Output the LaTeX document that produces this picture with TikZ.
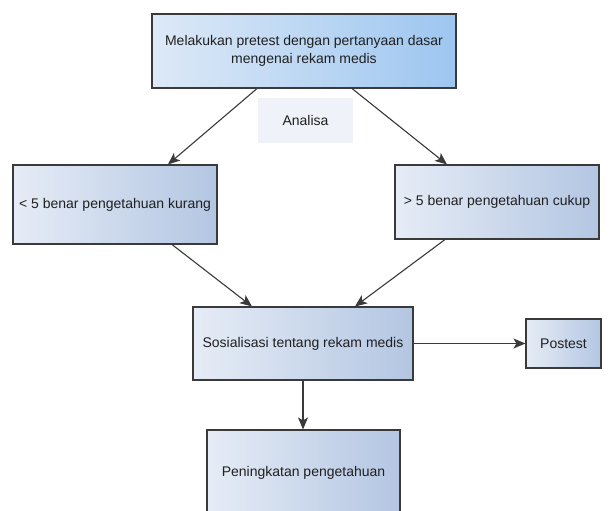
\documentclass[tikz,border=0pt]{standalone}
\usepackage{fontspec}
\setmainfont{Liberation Sans}
\usetikzlibrary{arrows.meta,shapes.geometric}
\definecolor{edgec}{HTML}{3A3A3A}
\definecolor{txtc}{HTML}{202020}
\definecolor{topL}{HTML}{DDE9F7}
\definecolor{topR}{HTML}{9DC6F0}
\definecolor{boxL}{HTML}{E6ECF6}
\definecolor{boxR}{HTML}{B3C6E2}
\definecolor{anaF}{HTML}{F0F2F9}
\tikzset{
  base/.style={rectangle, draw=edgec, line width=1.1bp, inner sep=0pt,
    text=txtc, font=\fontsize{14bp}{18bp}\selectfont, align=center},
  topbox/.style={base, left color=topL, right color=topR},
  stepbox/.style={base, left color=boxL, right color=boxR},
  anabox/.style={rectangle, fill=anaF, inner sep=0pt, text=txtc,
    font=\fontsize{14bp}{18bp}\selectfont},
  conn/.style={draw=edgec, line width=1.1bp, -{Stealth[length=12bp,width=10bp,inset=3bp]}}
}
\begin{document}
\begin{tikzpicture}[x=1bp,y=-1bp]
\useasboundingbox (0,0) rectangle (612,511);
\clip (0,0) rectangle (612,511);
\fill[white] (0,0) rectangle (612,511);
\node[topbox, minimum width=304bp, minimum height=74bp] (top) at (304,51)
  {Melakukan pretest dengan pertanyaan dasar\\mengenai rekam medis};
\node[anabox, minimum width=95bp, minimum height=45bp] (ana) at (305.5,120.5) {Analisa};
\node[stepbox, minimum width=204bp, minimum height=79bp] (left) at (115,204.5)
  {< 5 benar pengetahuan kurang};
\node[stepbox, minimum width=204bp, minimum height=74bp] (right) at (497,202)
  {> 5 benar pengetahuan cukup};
\node[stepbox, minimum width=220bp, minimum height=73bp] (sos) at (303,343.5)
  {Sosialisasi tentang rekam medis};
\node[stepbox, minimum width=75bp, minimum height=49bp] (post) at (563.5,343.5)
  {Postest};
\node[stepbox, minimum width=193bp, minimum height=86bp] (pen) at (303.5,473)
  {Peningkatan pengetahuan};
\draw[conn] ([xshift=-47bp]top.south) -- ([xshift=53bp]left.north);
\draw[conn] ([xshift=48bp]top.south) -- ([xshift=-50bp]right.north);
\draw[conn] ([xshift=57bp]left.south) -- ([xshift=-51bp]sos.north);
\draw[conn] ([xshift=-52bp]right.south) -- ([xshift=52bp]sos.north);
\draw[conn] (sos.east) -- (post.west);
\draw[conn] (sos.south) -- (sos.south |- pen.north);
\end{tikzpicture}
\end{document}
